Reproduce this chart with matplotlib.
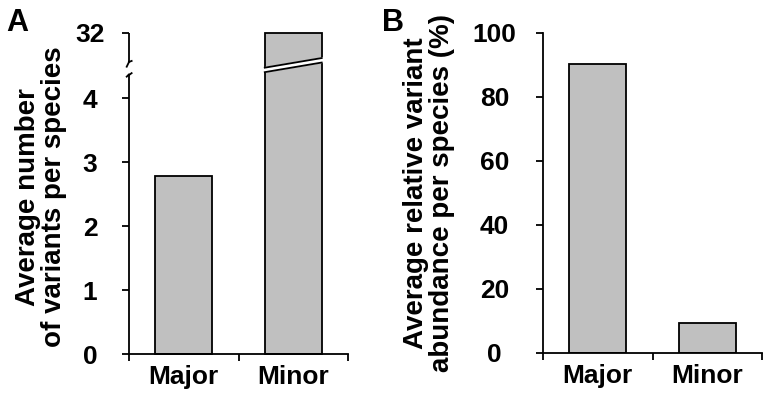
import numpy as np
import matplotlib
matplotlib.use('Agg')
from matplotlib import pyplot as plt
from matplotlib import transforms

plt.rcParams['font.family'] = ['Liberation Sans', 'DejaVu Sans']
plt.rcParams['font.weight'] = 'bold'

categories = ['Major', 'Minor']
variants_per_species = [2.78, 31.8]
relative_abundance = [90.3, 9.4]
ticks_a = [0, 1, 2, 3, 4, 32]
ticks_b = [0, 20, 40, 60, 80, 100]

bar_color = '#c0c0c0'
bar_w = 0.52
lw = 1.3
tick_fs = 19
label_fs = 20

# broken y scale for panel A: linear up to brk, compressed above
brk = 4.6
k = 0.01518


def fwd(y):
	y = np.asarray(y, dtype=float)
	return np.where(y <= brk, y, brk + (y - brk) * k)


def inv(t):
	t = np.asarray(t, dtype=float)
	return np.where(t <= brk, t, brk + (t - brk) / k)


fig = plt.figure(figsize=(7.69, 4.03), dpi=100)
ax1 = fig.add_axes([129 / 769, 49 / 403, 219 / 769, 321 / 403])
ax2 = fig.add_axes([543 / 769, 50 / 403, 219 / 769, 320 / 403])

x = np.arange(len(categories))


def style(ax, pad):
	ax.set_xlim(-0.5, 1.5)
	for s in ['top', 'right']:
		ax.spines[s].set_visible(False)
	for s in ['left', 'bottom']:
		ax.spines[s].set_linewidth(lw)
	ax.set_xticks([-0.5, 0.5, 1.5])
	ax.set_xticklabels([])
	ax.set_xticks(x, minor=True)
	ax.set_xticklabels(categories, minor=True, fontsize=tick_fs, fontweight='bold')
	ax.tick_params(axis='x', which='major', length=5, width=lw, direction='out')
	ax.tick_params(axis='x', which='minor', length=0, pad=8)
	ax.tick_params(axis='y', length=5, width=lw, direction='out', pad=pad, labelsize=tick_fs)
	for t in ax.get_yticklabels():
		t.set_horizontalalignment('center')
		t.set_fontweight('bold')


# panel A
ax1.set_yscale('function', functions=(fwd, inv))
ax1.bar(x, variants_per_species, width=bar_w, color=bar_color, edgecolor='black', linewidth=lw, clip_on=False)
ax1.set_ylim(0, 32)
ax1.set_yticks(ticks_a)
ax1.set_yticklabels([str(t) for t in ticks_a])
style(ax1, 23)
ax1.spines['left'].set_visible(False)
ax1.set_ylabel('Average number\nof variants per species', fontsize=label_fs, fontweight='bold',
	linespacing=1.0)
ax1.yaxis.set_label_coords(-0.285, 0.49)

# axis break on the left spine
ta = ax1.transAxes
ax1.plot([0, 0], [0, 0.869], color='black', lw=lw, transform=ta, clip_on=False, solid_capstyle='butt')
ax1.plot([0, 0], [0.9097, 1], color='black', lw=lw, transform=ta, clip_on=False, solid_capstyle='butt')
ax1.plot([-0.0105, 0.0], [0.864, 0.871], color='black', lw=lw, transform=ta, clip_on=False)
ax1.plot([-0.0105, 0.0], [0.895, 0.9097], color='black', lw=lw, transform=ta, clip_on=False)
ax1.plot([0.0, 0.012], [0.869, 0.875], color='black', lw=lw, transform=ta, clip_on=False)
ax1.plot([0.0, 0.012], [0.9097, 0.913], color='black', lw=lw, transform=ta, clip_on=False)

# slanted gap across the Minor bar
bt = transforms.blended_transform_factory(ax1.transData, ax1.transAxes)
x0 = x[1] - bar_w / 2
x1 = x[1] + bar_w / 2
slope = (0.922 - 0.892) / (x1 - x0)
up0, lo0 = 0.892, 0.878
e = 0.04
ax1.fill([x0 - e, x1 + e, x1 + e, x0 - e],
	[lo0 - e * slope, lo0 + (x1 - x0 + e) * slope, up0 + (x1 - x0 + e) * slope, up0 - e * slope],
	color='white', transform=bt, clip_on=False, zorder=3)
ax1.plot([x0, x1], [up0, up0 + (x1 - x0) * slope], color='black', lw=lw, transform=bt, clip_on=False, zorder=4)
ax1.plot([x0, x1], [lo0, lo0 + (x1 - x0) * slope], color='black', lw=lw, transform=bt, clip_on=False, zorder=4)

# panel B
ax2.bar(x, relative_abundance, width=bar_w, color=bar_color, edgecolor='black', linewidth=lw)
ax2.set_ylim(0, 100)
ax2.set_yticks(ticks_b)
ax2.set_yticklabels([str(t) for t in ticks_b])
style(ax2, 30)
ax2.set_ylabel('Average relative variant\nabundance per species (%)', fontsize=label_fs, fontweight='bold',
	linespacing=1.0)
ax2.yaxis.set_label_coords(-0.40, 0.50)

fig.text(6 / 769, 1 - 31 / 403, 'A', fontsize=22, fontweight='bold')
fig.text(382 / 769, 1 - 31 / 403, 'B', fontsize=22, fontweight='bold')

fig.savefig('out.png', dpi=100)
